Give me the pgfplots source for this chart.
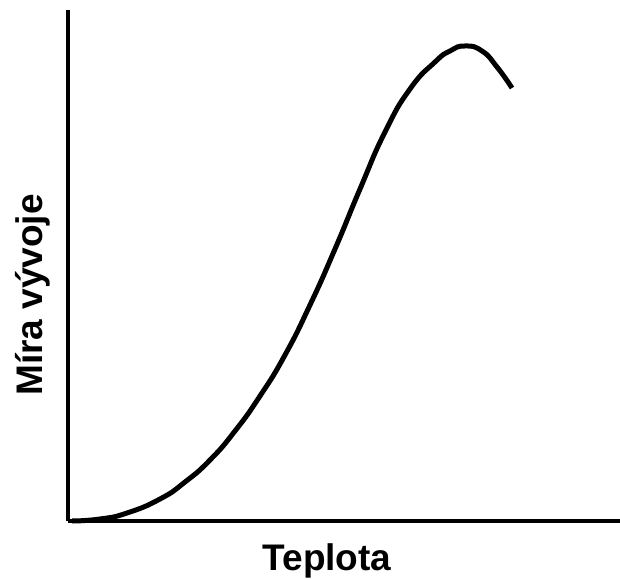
\documentclass[border=0pt]{standalone}
\usepackage{pgfplots}
\pgfplotsset{compat=1.18}
\usepackage{fontspec}
\setmainfont{Liberation Sans}
\begin{document}
\begin{tikzpicture}
\begin{axis}[
  scale only axis,
  width=552bp, height=511bp,
  xmin=0, xmax=552, ymin=0, ymax=511,
  axis x line=bottom, axis y line=left,
  axis line style={-, line width=3.5bp},
  xtick=\empty, ytick=\empty,
  clip=false,
]
\addplot[smooth, tension=0.9, line width=5bp, black] coordinates {
(4,0) (32,2) (59,8) (92,22) (117,39) (142,61) (167,90) (192,125) (217,166) (242,216) (267,272) (292,332) (317,389) (342,432) (367,459) (382,470) (397,475) (414,470) (429,454) (444,433)
};
\node[font=\fontsize{37bp}{40bp}\selectfont\bfseries] at (axis cs:259,-40) {Teplota};
\node[font=\fontsize{37bp}{40bp}\selectfont\bfseries, rotate=90] at (axis cs:-35,226) {Míra vývoje};
\coordinate (bl) at (axis cs:-68,-58);
\coordinate (tr) at (axis cs:552,521);
\end{axis}
\pgfresetboundingbox
\path (bl) rectangle (tr);
\end{tikzpicture}
\end{document}
